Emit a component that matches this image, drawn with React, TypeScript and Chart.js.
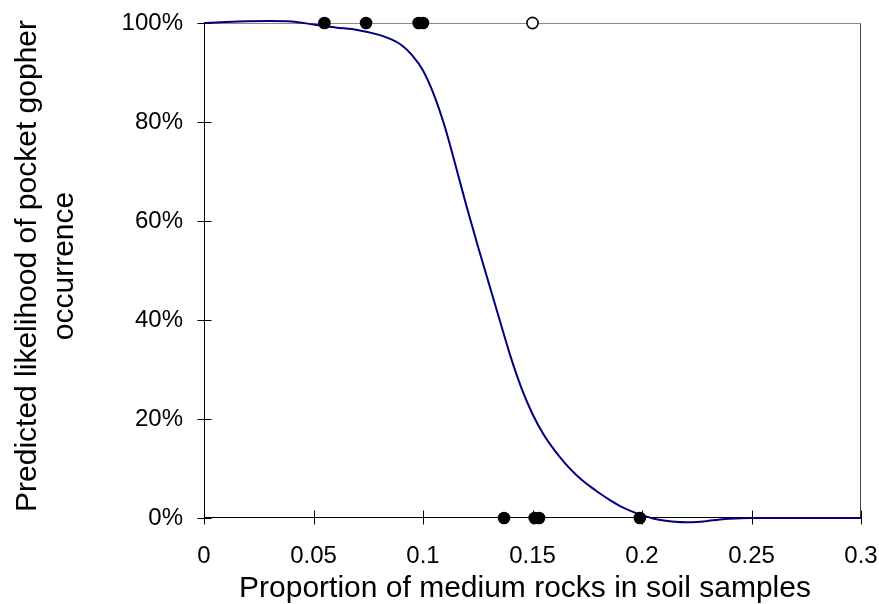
import React, { useEffect, useRef } from "react";
import { Chart, registerables } from "chart.js";

Chart.register(...registerables);

// ---- data ----
const curveX = [0, 0.01, 0.02, 0.03, 0.04, 0.05, 0.06, 0.07, 0.08, 0.085, 0.09, 0.095, 0.1, 0.105, 0.11, 0.115, 0.12, 0.125, 0.13, 0.135, 0.14, 0.145, 0.15, 0.155, 0.16, 0.165, 0.17, 0.175, 0.18, 0.185, 0.19, 0.195, 0.2, 0.205, 0.21, 0.215, 0.22, 0.225, 0.23, 0.235, 0.24, 0.25, 0.26, 0.28, 0.3];
const curveY = [100, 100.2, 100.35, 100.4, 100.3, 99.7, 99.1, 98.6, 97.6, 96.8, 95.6, 93.5, 90.4, 85.5, 79, 71, 62.8, 55, 47.5, 40, 32.6, 26.2, 21, 16.9, 13.7, 11, 8.7, 6.8, 5.2, 3.7, 2.4, 1.4, 0.6, -0.1, -0.5, -0.75, -0.85, -0.8, -0.6, -0.35, -0.15, 0, 0, 0, 0];

const presentX = [0.055, 0.074, 0.098, 0.1];
const presentY = [100, 100, 100, 100];
const absentX = [0.137, 0.151, 0.153, 0.199];
const absentY = [0, 0, 0, 0];
const openX = [0.15];
const openY = [100];

const xTickValues = [0, 0.05, 0.1, 0.15, 0.2, 0.25, 0.3];
const xTickLabels = ["0", "0.05", "0.1", "0.15", "0.2", "0.25", "0.3"];
const yTickValues = [0, 20, 40, 60, 80, 100];
const yTickLabels = ["0%", "20%", "40%", "60%", "80%", "100%"];

const xTitle = "Proportion of medium rocks in soil samples";
const yTitle = ["Predicted likelihood of pocket gopher", "occurrence"];

const FONT = "'Liberation Sans', Arial, Helvetica, sans-serif";

const toPts = (xs: number[], ys: number[]) => xs.map((x, i) => ({ x, y: ys[i] }));

const zeroPad = (s: any) => {
  s.paddingLeft = 0;
  s.paddingRight = 0;
  s.paddingTop = 0;
  s.paddingBottom = 0;
};

const framePlugin = {
  id: "frame",
  beforeDatasetsDraw(chart: any) {
    const { ctx, chartArea: a, scales } = chart;
    const L = Math.round(a.left) + 0.5;
    const R = Math.round(a.right) - 0.5;
    const T = Math.round(a.top) + 0.5;
    const B = Math.round(a.bottom) - 0.5;
    ctx.save();
    ctx.lineWidth = 1;
    // plot-area border (top, right)
    ctx.strokeStyle = "#8a8a8a";
    ctx.beginPath();
    ctx.moveTo(L, T);
    ctx.lineTo(R, T);
    ctx.stroke();
    ctx.strokeStyle = "#444";
    ctx.beginPath();
    ctx.moveTo(R, T);
    ctx.lineTo(R, B);
    ctx.stroke();
    // axes
    ctx.strokeStyle = "#000";
    ctx.beginPath();
    ctx.moveTo(L, T);
    ctx.lineTo(L, B);
    ctx.moveTo(L, B);
    ctx.lineTo(R, B);
    ctx.stroke();
    // crossing tick marks
    ctx.beginPath();
    for (const v of xTickValues) {
      const px = Math.round(scales.x.getPixelForValue(v)) + 0.5;
      ctx.moveTo(px, B - 7);
      ctx.lineTo(px, B + 7);
    }
    for (const v of yTickValues) {
      const py = Math.round(scales.y.getPixelForValue(v)) + 0.5;
      ctx.moveTo(L - 7, py);
      ctx.lineTo(L + 7, py);
    }
    ctx.stroke();
    ctx.restore();
  },
  afterDraw(chart: any) {
    const { ctx } = chart;
    ctx.save();
    ctx.fillStyle = "#000";
    ctx.font = `30px ${FONT}`;
    ctx.textAlign = "center";
    ctx.textBaseline = "alphabetic";
    ctx.fillText(xTitle, 525, 597);
    ctx.translate(0, 266);
    ctx.rotate(-Math.PI / 2);
    ctx.fillText(yTitle[0], 0, 36);
    ctx.fillText(yTitle[1], 0, 73);
    ctx.restore();
  },
};

export default function App() {
  const ref = useRef<HTMLCanvasElement | null>(null);
  useEffect(() => {
    if (!ref.current) return;
    const chart = new Chart(ref.current, {
      type: "scatter",
      data: {
        datasets: [
          {
            label: "present",
            data: toPts(presentX, presentY),
            pointRadius: 6.3,
            pointBackgroundColor: "#000",
            pointBorderColor: "#000",
            pointBorderWidth: 0,
            showLine: false,
            clip: false,
          } as any,
          {
            label: "absent",
            data: toPts(absentX, absentY),
            pointRadius: 6.3,
            pointBackgroundColor: "#000",
            pointBorderColor: "#000",
            pointBorderWidth: 0,
            showLine: false,
            clip: false,
          },
          {
            label: "open",
            data: toPts(openX, openY),
            pointRadius: 5.6,
            pointBackgroundColor: "#fff",
            pointBorderColor: "#000",
            pointBorderWidth: 1.6,
            showLine: false,
            clip: false,
          },
          {
            label: "model",
            data: toPts(curveX, curveY),
            showLine: true,
            pointRadius: 0,
            borderColor: "#000080",
            borderWidth: 2,
            cubicInterpolationMode: "monotone",
            clip: false,
          },
        ],
      },
      options: {
        animation: false,
        responsive: false,
        devicePixelRatio: 1,
        layout: { padding: { top: 23, right: 18, left: 0, bottom: 0 } },
        plugins: {
          legend: { display: false },
          tooltip: { enabled: false },
          title: { display: false },
        },
        scales: {
          x: {
            type: "linear",
            position: "bottom",
            min: 0,
            max: 0.3,
            afterBuildTicks: (s: any) => {
              s.ticks = xTickValues.map((v) => ({ value: v }));
            },
            afterFit: (s: any) => {
              s.height = 86;
              zeroPad(s);
            },
            ticks: {
              autoSkip: false,
              maxRotation: 0,
              padding: 24,
              color: "#000",
              font: { family: FONT, size: 24 },
              callback: (_v: any, i: number) => xTickLabels[i],
            },
            grid: { display: false, drawTicks: false },
            border: { display: false },
          },
          y: {
            type: "linear",
            min: 0,
            max: 100,
            afterBuildTicks: (s: any) => {
              s.ticks = yTickValues.map((v) => ({ value: v }));
            },
            afterFit: (s: any) => {
              s.width = 204;
              zeroPad(s);
            },
            ticks: {
              autoSkip: false,
              padding: 21,
              color: "#000",
              font: { family: FONT, size: 24 },
              callback: (_v: any, i: number) => yTickLabels[i],
            },
            grid: { display: false, drawTicks: false },
            border: { display: false },
          },
        },
      } as any,
      plugins: [framePlugin],
    });
    return () => chart.destroy();
  }, []);

  return (
    <div style={{ position: "fixed", left: 0, top: 0, width: 879, height: 604, background: "#fff" }}>
      <canvas ref={ref} width={879} height={604} style={{ display: "block" }} />
    </div>
  );
}
